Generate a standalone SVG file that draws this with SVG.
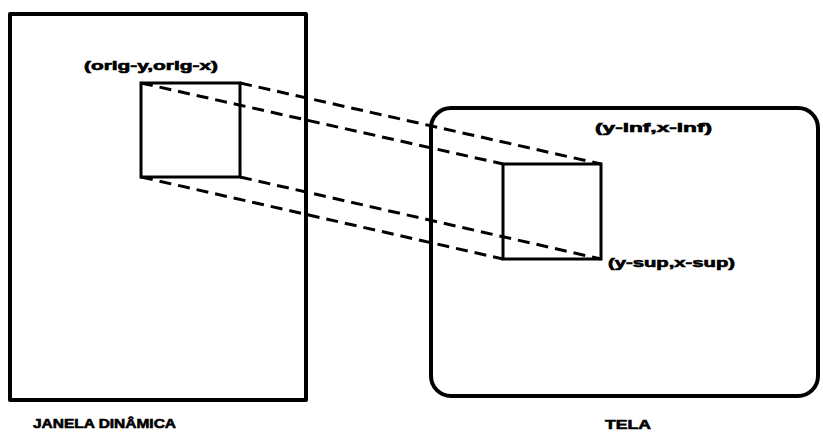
<svg xmlns="http://www.w3.org/2000/svg" width="823" height="434" viewBox="0 0 823 434">
  <style>
    .frame { fill: none; stroke: #000; stroke-width: 4; stroke-linejoin: round; }
    .win { fill: none; stroke: #000; stroke-width: 3; }
    .proj { fill: none; stroke: #000; stroke-width: 3; stroke-dasharray: 12 7; }
    .lbl { font-family: "Liberation Sans", Arial, sans-serif; font-weight: bold; fill: #000; stroke: #000; stroke-width: 0.6; }
    .small { font-size: 12px; }
    .cap { font-size: 13px; }
  </style>
  <rect width="823" height="434" fill="#fff"/>

  <!-- projection lines from the dynamic window onto the screen -->
  <g id="connectors">
    <line class="proj" x1="141" y1="83" x2="503" y2="164"/>
    <line class="proj" x1="240" y1="83" x2="601" y2="164"/>
    <line class="proj" x1="141" y1="177" x2="503" y2="259"/>
    <line class="proj" x1="240" y1="177" x2="601" y2="259"/>
  </g>

  <g id="janela-dinamica">
    <rect class="frame" x="10" y="14" width="296" height="386"/>
    <text class="lbl cap" x="33" y="428" textLength="143" lengthAdjust="spacingAndGlyphs">JANELA DINÂMICA</text>
  </g>

  <g id="janela-origem">
    <rect class="win" x="141" y="83" width="99" height="94"/>
    <text class="lbl small" x="84" y="70" textLength="134" lengthAdjust="spacingAndGlyphs">(orig-y,orig-x)</text>
  </g>

  <g id="tela">
    <rect class="frame" x="431" y="108" width="387" height="288" rx="20" ry="20"/>
    <text class="lbl cap" x="605" y="429" textLength="46" lengthAdjust="spacingAndGlyphs">TELA</text>
  </g>

  <g id="janela-tela">
    <rect class="win" x="503" y="164" width="98" height="95"/>
    <text class="lbl small" x="595" y="132" textLength="117" lengthAdjust="spacingAndGlyphs">(y-inf,x-inf)</text>
    <text class="lbl small" x="608" y="267" textLength="127" lengthAdjust="spacingAndGlyphs">(y-sup,x-sup)</text>
  </g>
</svg>
